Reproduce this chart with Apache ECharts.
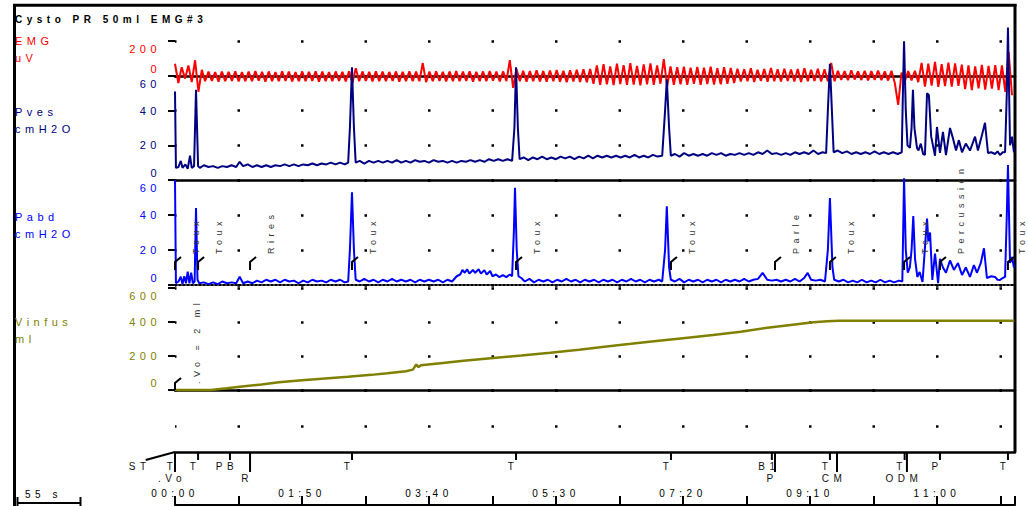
<!DOCTYPE html>
<html>
<head>
<meta charset="utf-8">
<script src="https://cdn.jsdelivr.net/npm/echarts@6/dist/echarts.min.js"></script>
<style>
  html, body { margin: 0; padding: 0; background: #fff; }
  #chart { width: 1028px; height: 506px; }
  #chart svg text { letter-spacing: 4.5px; }
</style>
</head>
<body>
<div id="chart"></div>
<script>
// temps en secondes
var timeMax = 727.6;
var timeStep = 55;
var emgStep = 2.9;

// EMG uV, un point toutes les emgStep secondes
var emgValues = [
  70, -40, 50, -15, 60, -35, 90, -90, 35,
  -30, 25, -28, 22, -32, 26, -30, 24, -28, 27,
  -31, 23, -29, 25, -30, 28, -27, 24, -32, 26,
  -29, 23, -30, 27, -28, 25, -31, 22, -29, 26,
  -30, 24, -28, 27, -32, 25, -29, 23, -30, 26,
  -28, 24, -31, 27,
  -40, 45,
  -30, 26, -28, 24, -31, 27, -29, 25, -30, 23, -28, 26, -32, 24, -29, 27, -30, 25,
  -30, 74, -35,
  25, -30, 27, -28, 24, -31, 26, -29, 28, -30, 25, -28, 27, -32, 24, -29, 26, -30, 28, -27, 25, -31, 26, -29,
  91, -68, 40, -30,
  30, -32, 28, -30, 33, -31, 29, -33, 31, -30, 34, -32, 30, -35, 33, -31, 36, -34, 38, -36, 40, -45,
  60, -50, 68, -48, 55, -52, 70, -46, 62, -51, 74, -49, 58, -53, 66, -47, 72, -50, 60, -44, 97, -60, 55, -50, 50,
  -48, 53, -51, 47, -45, 52, -50, 48, -46, 53, -49, 45, -47, 50, -44, 46, -40, 42,
  -32, 38, -30, 44, -34, 36, -28, 40, -33, 46, -30, 38, -32, 42, -29, 37, -31, 40, -34, 44, -30, 36, -28, 42, -32, 38, -30,
  74, -30,
  30, -22, 28, -24, 32, -20, 27, -23, 30, -25, 28, -22, 31, -24, 26, -26, 30, -40,
  -165,
  20, -30, 28, -25, 30, -35,
  75, -60, 70, -55, 80, -62, 68, -58, 77, -60, 72, -56, 65,
  -75, 60, -80, 55, -70, 63, -78, 58, -72, 62, -80, 60,
  -90, 137, -110
];

// Pves cmH2O [t, valeur]
var pvesData = [
  [0, 51], [0.8, 7], [3, 7.5], [5, 11], [6.5, 7], [9, 9], [11, 6.5], [13, 14], [14.5, 7], [16.5, 8],
  [18.2, 52], [20, 8], [21.5, 7], [25, 8.5], [29, 7.5], [33, 8], [37, 7], [41, 8], [45, 7.5], [49, 8.5],
  [53, 7.5], [56, 10.5], [59, 8], [63, 9], [67, 7.5], [71, 8.5], [75, 7.5], [79, 8.5], [83, 7.5], [87, 8.5],
  [91, 8], [95, 9], [99, 8], [103, 9], [107, 8], [111, 9], [115, 8.5], [119, 9.5], [123, 8.5], [127, 9.5],
  [131, 9], [135, 10], [139, 9], [143, 10], [147, 9], [150, 10], [151.5, 30], [153.3, 65], [155, 30], [156.5, 10],
  [160, 11], [164, 9.5], [168, 11], [172, 10], [176, 11], [180, 10], [184, 11], [188, 10], [192, 11.5], [196, 10],
  [200, 11], [204, 10], [208, 11.5], [212, 10.5], [216, 11], [220, 10], [224, 11.5], [228, 10.5], [232, 11], [236, 10],
  [240, 11], [244, 10], [248, 11], [252, 10.5], [256, 11.5], [260, 10.5], [264, 11.5], [268, 10.5], [272, 12], [276, 11],
  [280, 12], [284, 11], [288, 12], [292, 11], [294, 30], [295.4, 65], [297, 30], [298.5, 12], [302, 13], [306, 11.5],
  [310, 13], [314, 12], [318, 13.5], [322, 12], [326, 13], [330, 12], [334, 13.5], [338, 12.5], [342, 13.5], [346, 12],
  [350, 13.5], [354, 12.5], [358, 14], [362, 12.5], [366, 14], [370, 13], [374, 14], [378, 13], [382, 14], [386, 13],
  [390, 14], [394, 13], [398, 14.5], [402, 13], [406, 14], [410, 13], [414, 14.5], [418, 13.5], [422, 14], [424.5, 40],
  [426, 58], [428, 30], [429.5, 14], [433, 15], [437, 13.5], [441, 15.5], [445, 14], [449, 15], [453, 14], [457, 15],
  [461, 14], [465, 15.5], [469, 14.5], [473, 15.5], [477, 14], [481, 15], [485, 14.5], [489, 15.5], [493, 14.5], [497, 15.5],
  [501, 14.5], [505, 16], [509, 15], [513, 17], [517, 15], [521, 15.5], [525, 14.5], [529, 15.5], [533, 14.5], [537, 16],
  [541, 15], [545, 16], [549, 15], [553, 17], [557, 15], [561, 16], [564, 15.5], [565.5, 40], [567.3, 67], [569, 40],
  [570.5, 16], [574, 17], [578, 15.5], [582, 16.5], [586, 15], [590, 16], [594, 15], [598, 16], [602, 15], [606, 16.5],
  [610, 15], [614, 16], [618, 15], [622, 16], [626, 15], [629.5, 16], [630.5, 50], [631.5, 80], [633, 40], [634.5, 20],
  [636.6, 18.5], [638, 30], [639.2, 52], [640.5, 30], [642.7, 18.5], [644, 17], [646, 21], [648, 15], [649.6, 14.5], [651.4, 50],
  [653, 49], [655, 25], [658.3, 14], [660, 30.6], [662.6, 15.6], [665.2, 27.7], [667.8, 14.4], [671.3, 30], [673.9, 24], [676.5, 17],
  [679, 23], [681.7, 16], [685, 21], [688.6, 17], [693, 25], [695.5, 17], [699, 26], [701.6, 33], [704.2, 15.6], [707, 16],
  [710.3, 15], [712.5, 16.5], [714.6, 14.4], [717, 16], [719, 16], [720.5, 50], [721.5, 88], [723.3, 20], [725, 25], [726.7, 16]
];

// Pabd cmH2O [t, valeur]
var pabdData = [
  [0, 60], [0.8, 1], [3, 2], [5, 4.7], [6.5, 0.5], [8, 5], [9.5, 1], [11, 7.6], [12.5, 1], [14, 7],
  [15.5, 1], [17, 2], [18.2, 44], [19.5, 3], [21, 1], [25, 1.5], [29, 0.5], [33, 1.5], [37, 0.5], [41, 2],
  [45, 1], [49, 1.5], [53, 1], [56, 4.7], [59, 1], [63, 2], [67, 1], [71, 2.5], [75, 1.5], [79, 3],
  [83, 2], [87, 3], [91, 1.5], [95, 3], [99, 2], [103, 2.5], [107, 1], [111, 2.5], [115, 1.5], [119, 3],
  [123, 2], [127, 2.5], [131, 1.5], [135, 3], [139, 2], [143, 3], [147, 1.5], [150, 2], [151.5, 20], [153.3, 53],
  [155, 20], [156.5, 3], [160, 2], [164, 3.5], [168, 2], [172, 3], [176, 1.5], [180, 3], [184, 2], [188, 3.5],
  [192, 2], [196, 3], [200, 2], [204, 3], [208, 1.5], [212, 3], [216, 2], [220, 3], [224, 2], [228, 3],
  [232, 1.5], [236, 3], [240, 2], [244, 5], [247, 6], [249, 8.6], [251, 7], [253, 9], [255, 6.5], [258, 8.6],
  [260, 7], [263, 9], [265, 6.5], [268, 8.5], [270, 6], [273, 8], [275, 5], [278, 6], [281, 4.5], [284, 5.7],
  [287, 4.5], [290, 6], [292, 5], [293.5, 30], [294.5, 55.6], [296, 20], [297.5, 5], [300, 4], [303, 2], [307, 3.5],
  [311, 1.5], [315, 3], [319, 2], [323, 3], [327, 1.5], [331, 3], [335, 2], [339, 3.5], [343, 2], [347, 3],
  [351, 1.5], [355, 3], [359, 2], [363, 3], [367, 1.5], [371, 3], [375, 2], [379, 3], [383, 1.5], [387, 3],
  [391, 2], [395, 3.5], [399, 2], [403, 3], [407, 1.5], [411, 3], [415, 2], [419, 3], [422, 2], [424.5, 20],
  [426, 45], [428, 10], [429.5, 3], [433, 2], [437, 3.5], [441, 1.5], [445, 3], [449, 2], [453, 3], [457, 1.5],
  [461, 3], [465, 2], [469, 3], [473, 1.5], [477, 3], [481, 2], [485, 3], [489, 2], [493, 3.5], [497, 2],
  [501, 3], [505, 3.5], [509, 6.9], [513, 3], [517, 2.5], [521, 3], [525, 2], [529, 3], [533, 2], [537, 3.5],
  [541, 2], [545, 4], [548, 6.9], [551, 3], [555, 2.5], [559, 3], [563, 2], [565.5, 20], [567.3, 49.7], [569.5, 10],
  [571, 3], [575, 2], [579, 3], [583, 1.5], [587, 2.5], [591, 1.5], [595, 3], [599, 1.5], [603, 2.5], [607, 1.5],
  [611, 3], [615, 1.5], [619, 2.5], [623, 1.5], [627, 2.5], [630, 2], [631.5, 61], [633, 20], [634.7, 7], [636.5, 10],
  [638, 20], [639.5, 39.4], [641, 15], [643, 4.6], [645, 7.4], [647.5, 1.7], [650, 25], [651.4, 38], [652.5, 25], [654, 30],
  [656, 2.9], [658.3, 18], [661, 1], [662.6, 15], [665.2, 10], [667.8, 7], [671.3, 14], [674.7, 8.6], [678.2, 12.6], [681.7, 5.7],
  [685, 10], [688.6, 4.6], [692, 11.4], [694.7, 7], [698, 12.6], [700.7, 21], [703.3, 4], [707, 5], [710.3, 4.6], [712.5, 3],
  [714.6, 2.9], [717, 4], [719, 4.6], [720.5, 40], [721.5, 68.6], [723.3, 12.6], [725, 16], [726.7, 10]
];

// Vinfus ml [t, valeur]
var vinfusData = [
  [0, 0], [31, 0], [45, 10], [60, 22], [75, 33], [90, 45], [110, 57], [130, 68], [150, 78], [170, 89],
  [184, 98], [200, 110], [206, 120], [209, 150], [211, 135], [213, 145], [230, 158], [250, 172], [278, 190], [300, 203],
  [325, 219], [350, 237], [372, 255], [395, 272], [419, 290], [440, 305], [466, 323], [490, 342], [513, 366], [535, 384],
  [553, 398], [565, 405], [575, 408], [727, 408]
];

// commentaires (Pabd) et note de volume
var commentTimes = [0, 20, 65, 153.3, 295.4, 429.6, 519.7, 567.3, 631.5, 662.6, 721.5];
var commentTexts = ['Toux', 'Toux', 'Rires', 'Toux', 'Toux', 'Toux', 'Parle', 'Toux', 'Toux', 'Percussion', 'Toux'];
var volumeNoteTimes = [0];
var volumeNoteTexts = ['.Vo = 2 ml'];

// marqueurs d'événements
var upperEventTimes = [-28, 0, 20, 47.6, 153.3, 295.4, 429.6, 517, 567.3, 632, 662.6, 721.5];
var upperEventLabels = ['ST', 'T', 'T', 'PB', 'T', 'T', 'T', 'B1', 'T', 'T', 'P', 'T'];
var lowerEventTimes = [0, 65, 519.7, 573.4, 634];
var lowerEventLabels = ['.Vo', 'R', 'P', 'CM', 'ODM'];

var channelNames = ['EMG', 'Pves', 'Pabd', 'Vinfus'];
var channelUnits = ['uV', 'cmH2O', 'cmH2O', 'ml'];
var channelColors = ['#ff0000', '#000080', '#0000ff', '#808000'];
var channelMax = [200, 60, 60, 600];
var channelInterval = [200, 20, 20, 200];

var FONT = '"Liberation Sans", Arial, sans-serif';

var pad2 = function (n) {
  return (n < 10 ? '0' : '') + n;
};

var dotLine = {
  show: true,
  lineStyle: { color: '#000', width: 2.5, type: [2.5, 61], dashOffset: 1.25 }
};

var makeX = function (gridIndex, position, line) {
  return {
    type: 'value', gridIndex: gridIndex, min: 0, max: timeMax, interval: timeStep,
    position: position,
    axisLine: line ? { show: true, onZero: false, lineStyle: line } : { show: false },
    axisTick: { show: false }, axisLabel: { show: false }, splitLine: { show: false }
  };
};

var makeY = function (k) {
  var max = channelMax[k];
  return {
    type: 'value', gridIndex: k, min: 0, max: max, interval: channelInterval[k],
    axisLine: { show: false },
    axisTick: { show: true, length: 7, lineStyle: { color: '#000', width: 2 } },
    axisLabel: {
      color: channelColors[k], fontSize: 11, fontFamily: FONT, margin: 14, lineHeight: 15,
      formatter: function (v) {
        if (v === max) return '\n' + v;
        if (v === 0) return v + '\n';
        return '' + v;
      }
    },
    splitLine: dotLine
  };
};

var grids = [
  { left: 175, right: 13, top: 41, height: 35 },
  { left: 175, right: 13, top: 76, height: 104 },
  { left: 175, right: 13, top: 180, height: 105 },
  { left: 175, right: 13, top: 288, height: 102 },
  { left: 175, right: 13, top: 390, height: 36 },
  { left: 175, right: 13, top: 452, height: 53 }
];

var solid = { color: '#000', width: 2.5 };

var xAxes = [
  makeX(0, 'bottom', null),
  makeX(1, 'top', solid),
  makeX(2, 'top', solid),
  makeX(2, 'bottom', { color: '#000', width: 2, type: [2, 2] }),
  makeX(3, 'bottom', solid),
  makeX(4, 'bottom', null),
  makeX(5, 'top', solid),
  {
    type: 'value', gridIndex: 5, min: 0, max: timeMax, interval: timeStep, position: 'bottom',
    axisLine: { show: true, onZero: false, lineStyle: { color: '#000', width: 2 } },
    axisTick: { show: true, inside: true, length: 9, lineStyle: { color: '#000', width: 2 } },
    axisLabel: {
      show: true, inside: true, margin: 7, color: '#000', fontSize: 10, fontFamily: FONT,
      formatter: function (v) {
        if (Math.round(v) % 110 !== 0) return '';
        return pad2(Math.floor(v / 60)) + ':' + pad2(Math.round(v) % 60);
      }
    },
    splitLine: { show: false }
  }
];

var yAxes = [makeY(0), makeY(1), makeY(2), makeY(3),
  {
    type: 'value', gridIndex: 4, min: 0, max: 1, interval: 1,
    axisLine: { show: false }, axisTick: { show: false }, axisLabel: { show: false },
    splitLine: dotLine
  },
  {
    type: 'value', gridIndex: 5, min: 0, max: 53, inverse: true, show: false
  }
];

var signal = function (name, x, y, data, color, width) {
  return {
    name: name, type: 'line', xAxisIndex: x, yAxisIndex: y, data: data,
    symbol: 'none', clip: false, silent: true,
    lineStyle: { color: color, width: width }
  };
};

// drapeau + texte vertical
var flagRender = function (texts, dx, textBottom) {
  return function (params, api) {
    var p = api.coord([api.value(0), 0]);
    // le dernier texte reste dans la fenêtre
    var tx = Math.min(p[0] + dx, 1022);
    return {
      type: 'group',
      children: [
        {
          type: 'polyline',
          shape: { points: [[p[0], p[1] - 15], [p[0], p[1] - 23], [p[0] + 6, p[1] - 28]] },
          style: { stroke: '#000', lineWidth: 2, fill: null }
        },
        {
          type: 'text', x: tx, y: p[1] - textBottom, rotation: Math.PI / 2,
          style: {
            text: texts[params.dataIndex], x: 0, y: 0, align: 'left', verticalAlign: 'middle',
            fill: '#333', font: '9px ' + FONT
          }
        }
      ]
    };
  };
};

var volumeRender = function (params, api) {
  var p = api.coord([api.value(0), 0]);
  return {
    type: 'group',
    children: [
      {
        type: 'polyline',
        shape: { points: [[p[0], p[1]], [p[0], p[1] - 7], [p[0] + 6, p[1] - 12]] },
        style: { stroke: '#000', lineWidth: 2, fill: null }
      },
      {
        type: 'text', x: p[0] + 22, y: p[1] - 6, rotation: Math.PI / 2,
        style: {
          text: volumeNoteTexts[params.dataIndex], x: 0, y: 0, align: 'left', verticalAlign: 'middle',
          fill: '#333', font: '9px ' + FONT
        }
      }
    ]
  };
};

var eventRender = function (labels, len, labelY) {
  return function (params, api) {
    var t = api.value(0);
    var p = api.coord([t, 0]);
    var children = [{
      type: 'text', x: p[0] - 3, y: p[1] + labelY,
      style: {
        text: labels[params.dataIndex], x: 0, y: 0, align: 'center', verticalAlign: 'middle',
        fill: '#111', font: '10px ' + FONT
      }
    }];
    if (t >= 0) {
      children.push({
        type: 'line', shape: { x1: p[0], y1: p[1], x2: p[0], y2: p[1] + len },
        style: { stroke: '#000', lineWidth: 2 }
      });
    } else {
      var o = api.coord([0, 0]);
      children.push({
        type: 'line', shape: { x1: p[0] + 3, y1: p[1] + 8, x2: o[0], y2: o[1] },
        style: { stroke: '#000', lineWidth: 2 }
      });
    }
    return { type: 'group', children: children };
  };
};

var toItems = function (times) {
  return times.map(function (t) { return [t, 0]; });
};

var series = [
  signal('EMG', 0, 0, emgValues.map(function (v, i) { return [i * emgStep, v]; }), '#ff0000', 2),
  signal('Pves', 1, 1, pvesData, '#000080', 2),
  signal('Pabd', 2, 2, pabdData, '#0000ff', 2),
  signal('Vinfus', 4, 3, vinfusData, '#808000', 2.5),
  {
    type: 'custom', xAxisIndex: 2, yAxisIndex: 2, data: toItems(commentTimes),
    renderItem: flagRender(commentTexts, 21, 31), silent: true, z: 5
  },
  {
    type: 'custom', xAxisIndex: 4, yAxisIndex: 3, data: toItems(volumeNoteTimes),
    renderItem: volumeRender, silent: true, z: 5
  },
  {
    type: 'custom', xAxisIndex: 6, yAxisIndex: 5, data: toItems(upperEventTimes),
    renderItem: eventRender(upperEventLabels, 8, 14), silent: true
  },
  {
    type: 'custom', xAxisIndex: 6, yAxisIndex: 5, data: toItems(lowerEventTimes),
    renderItem: eventRender(lowerEventLabels, 20, 26), silent: true
  }
];

// libellés des voies, cadre, échelle
var graphics = [
  { type: 'line', shape: { x1: 14.5, y1: 4, x2: 14.5, y2: 506 }, style: { stroke: '#000', lineWidth: 3 } },
  { type: 'line', shape: { x1: 13, y1: 5.3, x2: 1016.5, y2: 5.3 }, style: { stroke: '#000', lineWidth: 3 } },
  { type: 'line', shape: { x1: 1015, y1: 4, x2: 1015, y2: 452 }, style: { stroke: '#000', lineWidth: 3 } },
  { type: 'line', shape: { x1: 17, y1: 503, x2: 81, y2: 503 }, style: { stroke: '#000', lineWidth: 2 } },
  { type: 'line', shape: { x1: 17.5, y1: 497, x2: 17.5, y2: 506 }, style: { stroke: '#000', lineWidth: 2 } },
  { type: 'line', shape: { x1: 80.5, y1: 497, x2: 80.5, y2: 506 }, style: { stroke: '#000', lineWidth: 2 } },
  { type: 'text', x: 25, y: 494, style: { text: '55 s', fill: '#000', font: '10px ' + FONT, verticalAlign: 'middle' } },
  { type: 'text', x: 15, y: 19, style: { text: 'Cysto PR 50ml EMG#3', fill: '#000', font: 'bold 10px ' + FONT, verticalAlign: 'middle' } }
];
var nameY = [41, 112, 217, 322];
channelNames.forEach(function (n, k) {
  graphics.push({ type: 'text', x: 15, y: nameY[k], style: { text: n, fill: channelColors[k], font: '11px ' + FONT, verticalAlign: 'middle' } });
  graphics.push({ type: 'text', x: 15, y: nameY[k] + 17, style: { text: channelUnits[k], fill: channelColors[k], font: '11px ' + FONT, verticalAlign: 'middle' } });
});

var chart = echarts.init(document.getElementById('chart'), null, { renderer: 'svg' });
chart.setOption({
  animation: false,
  backgroundColor: '#fff',
  textStyle: { fontFamily: FONT },
  grid: grids,
  xAxis: xAxes,
  yAxis: yAxes,
  series: series,
  graphic: graphics
});
</script>
</body>
</html>
